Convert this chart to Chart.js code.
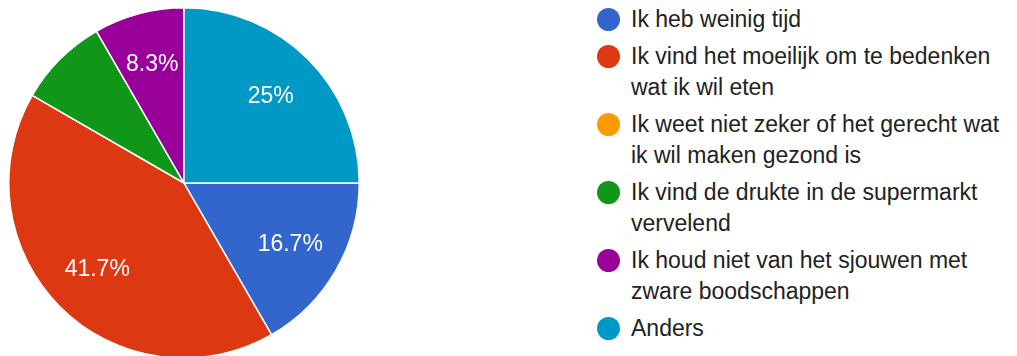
<!DOCTYPE html>
<html>
<head>
<meta charset="utf-8">
<script src="https://cdn.jsdelivr.net/npm/chart.js@4.4.1/dist/chart.umd.min.js"></script>
<style>
  html, body { margin: 0; padding: 0; background: #fff; width: 1017px; height: 356px; overflow: hidden; }
  #pieBox { position: absolute; left: 8px; top: 7px; width: 352px; height: 352px; }
  #legend { position: absolute; left: 597px; top: 4px; margin: 0; padding: 0; list-style: none;
            font-family: "Liberation Sans", Arial, sans-serif; font-size: 23px; color: #222; }
  #legend li { position: relative; padding-left: 34px; line-height: 31px; margin-bottom: 6px; white-space: nowrap; }
  #legend .dot { position: absolute; left: 0; top: 4px; width: 23px; height: 23px; border-radius: 50%; }
</style>
</head>
<body>
<div id="pieBox"><canvas id="pie"></canvas></div>
<ul id="legend"></ul>
<script>
// antwoorden (aantal respondenten per optie)
const categories = [
  ['Ik heb weinig tijd'],
  ['Ik vind het moeilijk om te bedenken', 'wat ik wil eten'],
  ['Ik weet niet zeker of het gerecht wat', 'ik wil maken gezond is'],
  ['Ik vind de drukte in de supermarkt', 'vervelend'],
  ['Ik houd niet van het sjouwen met', 'zware boodschappen'],
  ['Anders']
];
const counts = [2, 5, 0, 1, 1, 3];
const colors = ['#3366cc', '#dc3912', '#ff9900', '#109618', '#990099', '#0099c6'];
// slices whose percentage is not printed
const hiddenLabels = [3];

const total = counts.reduce((a, b) => a + b, 0);

// percentages inside the slices
const sliceLabels = {
  id: 'sliceLabels',
  afterDatasetsDraw(chart) {
    const ctx = chart.ctx;
    const meta = chart.getDatasetMeta(0);
    ctx.save();
    ctx.font = '23px "Liberation Sans", Arial, sans-serif';
    ctx.fillStyle = '#fff';
    ctx.textAlign = 'center';
    ctx.textBaseline = 'middle';
    meta.data.forEach((arc, i) => {
      if (!counts[i] || hiddenLabels.includes(i)) return;
      const mid = (arc.startAngle + arc.endAngle) / 2;
      const r = arc.outerRadius * 0.7;
      const pct = Math.round(counts[i] / total * 1000) / 10;
      ctx.fillText(pct + '%', arc.x + Math.cos(mid) * r, arc.y + Math.sin(mid) * r);
    });
    ctx.restore();
  }
};

new Chart(document.getElementById('pie'), {
  type: 'pie',
  data: {
    labels: categories,
    datasets: [{
      data: counts,
      backgroundColor: colors,
      borderColor: '#fff',
      borderWidth: 1.5
    }]
  },
  options: {
    responsive: true,
    maintainAspectRatio: false,
    animation: false,
    rotation: 90,
    layout: { padding: 0 },
    plugins: {
      legend: { display: false },
      tooltip: { enabled: false }
    }
  },
  plugins: [sliceLabels]
});

// legenda rechts
const legend = document.getElementById('legend');
categories.forEach((lines, i) => {
  const li = document.createElement('li');
  const dot = document.createElement('span');
  dot.className = 'dot';
  dot.style.background = colors[i];
  li.appendChild(dot);
  lines.forEach((t, j) => {
    if (j > 0) li.appendChild(document.createElement('br'));
    li.appendChild(document.createTextNode(t));
  });
  legend.appendChild(li);
});
</script>
</body>
</html>
